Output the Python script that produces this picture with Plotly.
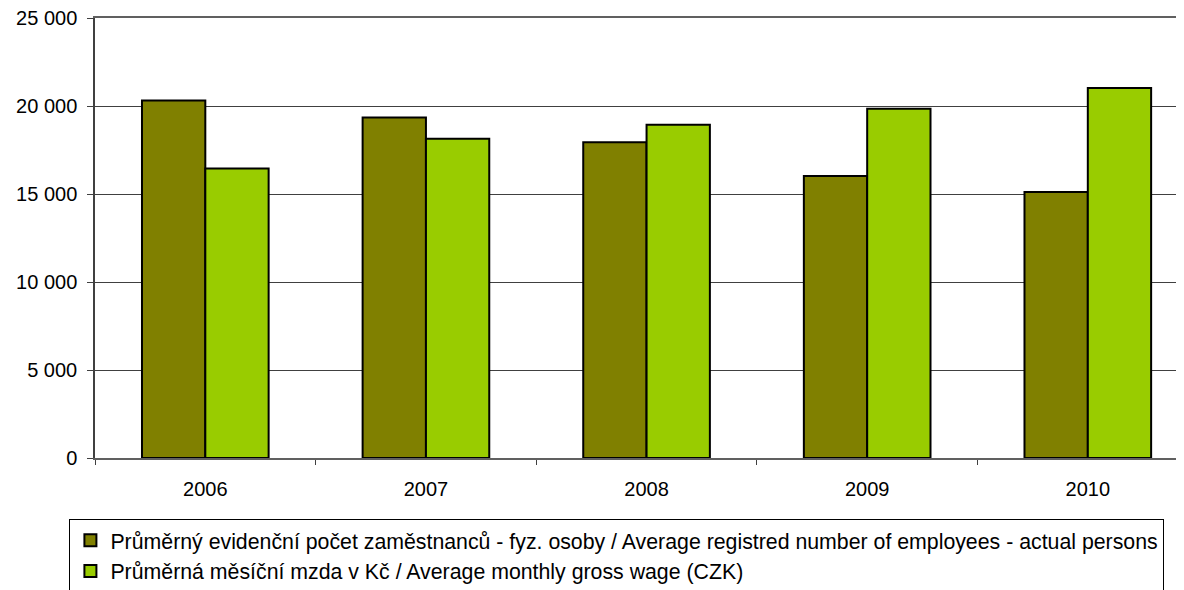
import plotly.graph_objects as go

# data
years = ["2006", "2007", "2008", "2009", "2010"]
employees = [20310, 19350, 17940, 16020, 15110]
wage = [16450, 18140, 18940, 19850, 21020]
name_emp = "Průměrný evidenční počet zaměstnanců - fyz. osoby / Average registred number of employees - actual persons"
name_wage = "Průměrná měsíční mzda v Kč / Average monthly gross wage (CZK)"

fig = go.Figure()
fig.add_trace(go.Bar(x=years, y=employees, name=name_emp,
                     marker=dict(color="#808000", line=dict(color="black", width=2))))
fig.add_trace(go.Bar(x=years, y=wage, name=name_wage,
                     marker=dict(color="#99CC00", line=dict(color="black", width=2))))

# page body has an 8px margin, so the figure sits 8px right/down in the window
fig.update_layout(
    width=1184, height=590,
    margin=dict(l=87, r=8, t=10, b=140, autoexpand=False),
    paper_bgcolor="white", plot_bgcolor="white",
    font=dict(family="Liberation Sans, Arial", size=20, color="black"),
    barmode="group", bargap=0.426, bargroupgap=0,
    separators=". ",
    showlegend=True,
    legend=dict(x=-0.0235, y=-0.1386, xanchor="left", yanchor="top",
                bgcolor="white", bordercolor="black", borderwidth=1,
                itemwidth=30, tracegroupgap=0,
                font=dict(size=21.3)),
)
fig.update_xaxes(type="category", range=[-0.5, 4.436],
                 showline=True, linecolor="#606060", linewidth=1.5, mirror=True,
                 ticks="outside", tickson="boundaries", ticklen=5, tickcolor="#404040",
                 ticklabelstandoff=12, showgrid=False)
fig.update_yaxes(range=[0, 25000], dtick=5000, tickformat=",d",
                 showline=True, linecolor="#404040", linewidth=1.5,
                 ticks="outside", ticklen=6, tickcolor="#404040",
                 ticklabelstandoff=6, ticklabeloverflow="allow",
                 showgrid=True, gridcolor="#404040", gridwidth=1, zeroline=False)

fig.write_html("out.html")
